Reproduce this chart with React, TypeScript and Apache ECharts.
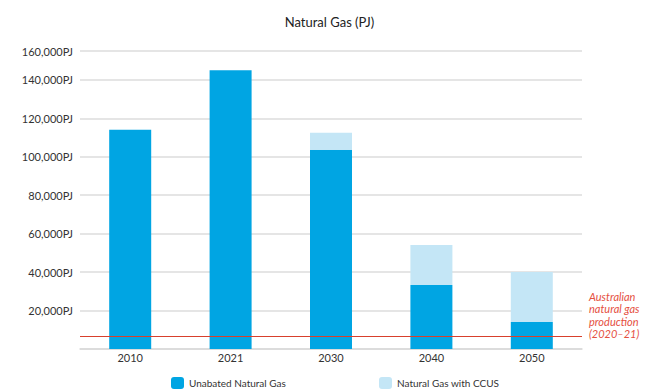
import React, { useEffect, useRef } from "react";
import * as echarts from "echarts";

// Natural gas use by year, split into unabated and CCUS-fitted supply (PJ)
const years = ["2010", "2021", "2030", "2040", "2050"];
const unabatedGas = [114000, 145000, 103700, 33300, 14000];
const gasWithCcus = [0, 0, 8800, 20800, 26000];

// Reference level: Australian natural gas production 2020–21 (PJ)
const productionLevel = 7000;
const productionNote = ["Australian", "natural gas", "production", "(2020–21)"];

const yMax = 155000;
const yStep = 20000;

const FONT = "Lato, 'Open Sans', sans-serif";
const NOTE_RED = "#e5503f";
const LINE_RED = "#d8402c";

export default function App() {
  const ref = useRef<HTMLDivElement>(null);

  useEffect(() => {
    if (!ref.current) return;
    const chart = echarts.init(ref.current, undefined, { renderer: "svg" });
    chart.setOption({
      animation: false,
      textStyle: { fontFamily: FONT },
      title: {
        text: "Natural Gas (PJ)",
        left: "center",
        top: 10,
        textStyle: { fontFamily: FONT, fontSize: 13, fontWeight: "normal", color: "#222" },
      },
      grid: { left: 80, right: 77, top: 51, bottom: 41 },
      legend: [
        {
          data: ["Unabated Natural Gas"],
          left: 171,
          top: 377,
          padding: 0,
          itemWidth: 13,
          itemHeight: 12,
          itemGap: 5,
          textStyle: { fontFamily: FONT, fontSize: 10, color: "#333" },
        },
        {
          data: ["Natural Gas with CCUS"],
          left: 379,
          top: 377,
          padding: 0,
          itemWidth: 13,
          itemHeight: 12,
          itemGap: 5,
          textStyle: { fontFamily: FONT, fontSize: 10, color: "#333" },
        },
      ],
      xAxis: {
        type: "category",
        data: years,
        axisLine: { show: true, lineStyle: { color: "#d9d9d9", width: 1.5 } },
        axisTick: { show: false },
        axisLabel: { fontFamily: FONT, fontSize: 11, color: "#333", margin: 3 },
      },
      yAxis: {
        type: "value",
        min: 0,
        max: yMax,
        interval: yStep,
        axisLine: { show: false },
        axisTick: { show: false },
        splitLine: { lineStyle: { color: "#dcdcdc", width: 1.5 } },
        axisLabel: {
          fontFamily: FONT,
          fontSize: 11,
          color: "#333",
          margin: 7,
          formatter: (v: number) =>
            v === 0 ? "" : (Math.ceil(v / yStep) * yStep).toLocaleString("en-US") + "PJ",
        },
      },
      series: [
        {
          name: "Unabated Natural Gas",
          type: "bar",
          stack: "gas",
          data: unabatedGas,
          barWidth: 42,
          itemStyle: { color: "#00a5e3" },
        },
        {
          name: "Natural Gas with CCUS",
          type: "bar",
          stack: "gas",
          data: gasWithCcus,
          barWidth: 42,
          itemStyle: { color: "#c4e6f6" },
        },
        {
          // horizontal reference line spanning the whole plot width
          name: "production",
          type: "custom",
          silent: true,
          z: 5,
          data: [[0, productionLevel]],
          encode: { x: 0, y: 1 },
          renderItem: (params: any, api: any) => {
            const cs = params.coordSys;
            const y = Math.round(api.coord([0, api.value(1)])[1]) + 0.5;
            return {
              type: "line",
              shape: { x1: cs.x, y1: y, x2: cs.x + cs.width, y2: y },
              style: { stroke: LINE_RED, lineWidth: 1 },
            };
          },
        },
      ],
      graphic: [
        {
          type: "text",
          left: 589,
          top: 290,
          style: {
            text: productionNote.join("\n"),
            font: `italic 11px ${FONT}`,
            fill: NOTE_RED,
            lineHeight: 12.5,
          },
        },
      ],
    });
    return () => chart.dispose();
  }, []);

  return (
    <div
      ref={ref}
      style={{ position: "absolute", left: 0, top: 0, width: 659, height: 390 }}
    />
  );
}
